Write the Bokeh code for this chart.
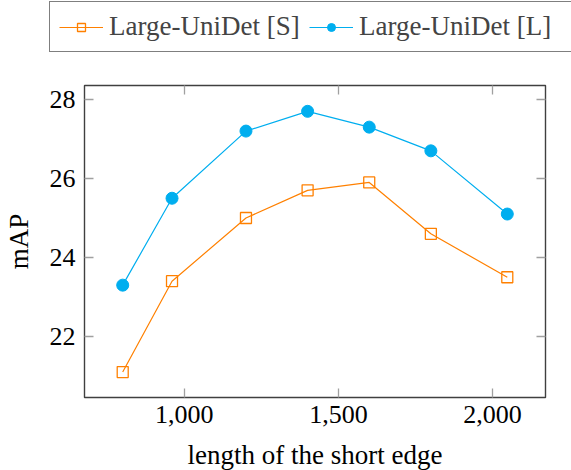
from bokeh.plotting import figure
from bokeh.layouts import column
from bokeh.models import (LinearAxis, FixedTicker, NumeralTickFormatter, Range1d,
                          Legend, LegendItem)
from bokeh.embed import file_html
from bokeh.resources import INLINE

# data
short_edge = [800, 960, 1200, 1400, 1600, 1800, 2048]
map_small = [21.1, 23.4, 25.0, 25.7, 25.9, 24.6, 23.5]
map_large = [23.3, 25.5, 27.2, 27.7, 27.3, 26.7, 25.1]
x_ticks = [1000, 1500, 2000]
y_ticks = [22, 24, 26, 28]
series_names = ["Large-UniDet [S]", "Large-UniDet [L]"]

FONT = "Liberation Serif"
FS = "26px"
LFS = "27px"
ORANGE = "#ff8000"
CYAN = "#00aeef"
TICK = "#a0a0a0"

# ---- legend strip (series drawn out of view; only the legend shows) ----
lg = figure(output_backend="svg", toolbar_location=None,
            frame_width=571, frame_height=56,
            min_border_left=0, min_border_right=0,
            min_border_top=0, min_border_bottom=0,
            x_range=Range1d(0, 1), y_range=Range1d(0, 1),
            x_axis_location=None, y_axis_location=None)
lg.grid.visible = False
lg.outline_line_color = None
ls_line = lg.line(short_edge, map_small, line_color=ORANGE, line_width=1.2)
ls_mark = lg.scatter(short_edge, map_small, marker="square", size=11,
                     fill_color=None, line_color=ORANGE, line_width=1.3)
ll_line = lg.line(short_edge, map_large, line_color=CYAN, line_width=1.2)
ll_mark = lg.scatter(short_edge, map_large, marker="circle", size=12,
                     fill_color=CYAN, line_color=CYAN)
dummy = lg.line(short_edge, map_large, line_alpha=0)
legend = Legend(items=[LegendItem(label=series_names[0], renderers=[ls_line, ls_mark]),
                       LegendItem(label=series_names[1], renderers=[ll_line, ll_mark]),
                       LegendItem(label=" ", renderers=[dummy])],
                orientation="horizontal", location=(49, 4),
                glyph_width=44, glyph_height=20, label_width=191,
                label_height=20, label_standoff=6, spacing=9, padding=9,
                margin=0, border_line_color="black", border_line_width=1.3,
                label_text_font=FONT, label_text_font_size=LFS,
                background_fill_color="white", background_fill_alpha=1)
lg.add_layout(legend, "center")

# ---- main plot ----
p = figure(output_backend="svg", toolbar_location=None,
           frame_width=461, frame_height=312,
           min_border_left=82, min_border_right=28,
           min_border_top=29, min_border_bottom=66,
           x_range=Range1d(676, 2172), y_range=Range1d(20.456, 28.354),
           x_axis_location=None, y_axis_location=None)
p.grid.visible = False
p.outline_line_color = "#404040"
p.outline_line_width = 1.4


def style_axis(ax, ticks, labels=True):
    ax.ticker = FixedTicker(ticks=ticks)
    ax.axis_line_color = None
    ax.major_tick_in = 9
    ax.major_tick_out = 0
    ax.major_tick_line_color = TICK
    ax.major_tick_line_width = 1.3
    ax.minor_tick_line_color = None
    ax.major_label_text_font = FONT
    ax.major_label_text_font_size = FS if labels else "0px"
    ax.major_label_text_color = "black" if labels else None
    ax.axis_label_text_font = FONT
    ax.axis_label_text_font_size = LFS
    ax.axis_label_text_font_style = "normal"
    ax.axis_label_text_color = "black"


xb = LinearAxis(axis_label="length of the short edge")
style_axis(xb, x_ticks)
xb.formatter = NumeralTickFormatter(format="0,0")
xb.major_label_standoff = 8
xb.axis_label_standoff = 14
p.add_layout(xb, "below")

yl = LinearAxis(axis_label="mAP")
style_axis(yl, y_ticks)
yl.major_label_standoff = 9
yl.axis_label_standoff = 13
p.add_layout(yl, "left")

xt = LinearAxis()
style_axis(xt, x_ticks, labels=False)
p.add_layout(xt, "above")

yr = LinearAxis()
style_axis(yr, y_ticks, labels=False)
p.add_layout(yr, "right")

p.line(short_edge, map_small, line_color=ORANGE, line_width=1.2)
p.scatter(short_edge, map_small, marker="square", size=11,
          fill_color=None, line_color=ORANGE, line_width=1.3)
p.line(short_edge, map_large, line_color=CYAN, line_width=1.2)
p.scatter(short_edge, map_large, marker="circle", size=12,
          fill_color=CYAN, line_color=CYAN)

layout = column(lg, p, spacing=0)
open("out.html", "w").write(file_html(layout, INLINE))
